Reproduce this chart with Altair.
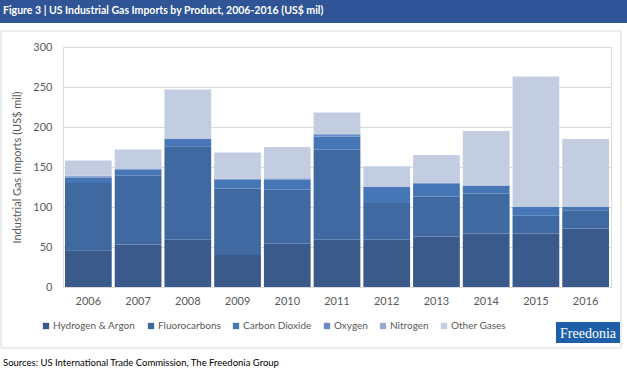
import altair as alt
import pandas as pd

years = ["2006", "2007", "2008", "2009", "2010", "2011", "2012", "2013", "2014", "2015", "2016"]
hydrogen_argon = [46, 53, 59, 40, 54, 59, 59, 63, 67, 67, 73]
fluorocarbons = [84, 86, 117, 83, 68, 113, 46, 50, 50, 22, 23]
carbon_dioxide = [7, 8, 9, 11, 12, 16, 20, 16, 10, 11, 4]
oxygen = [1.5, 1, 0, 1, 1, 2, 0, 1, 0, 0, 0]
nitrogen = [0.5, 0, 0, 0.5, 1, 2, 0, 0, 0, 0, 0]
other_gases = [19, 24, 62, 32.5, 39, 26, 26, 35, 68, 163, 85]

series_names = ["Hydrogen & Argon", "Fluorocarbons", "Carbon Dioxide", "Oxygen", "Nitrogen", "Other Gases"]
series_values = [hydrogen_argon, fluorocarbons, carbon_dioxide, oxygen, nitrogen, other_gases]
series_colors = ["#3a5a8b", "#3f69a0", "#4676b5", "#6a8cc6", "#97aacf", "#c3cde2"]

rows = []
for i, (name, vals) in enumerate(zip(series_names, series_values)):
    for y, v in zip(years, vals):
        rows.append({"year": y, "product": name, "value": v, "order": i})
df = pd.DataFrame(rows)

FONT = "Lato"
GRAY = "#595959"

# plot origin at (63, 47) in page pixels
W, H = 548, 240

bars = alt.Chart(df).mark_bar().encode(
    x=alt.X("year:N", sort=years,
            scale=alt.Scale(paddingInner=0.06, paddingOuter=0.04),
            axis=alt.Axis(title=None, labelAngle=0, ticks=False, domain=False,
                          labelPadding=8, labelFontSize=11, labelColor=GRAY, labelFont=FONT, grid=False)),
    y=alt.Y("value:Q", stack="zero",
            scale=alt.Scale(domain=[0, 300], nice=False),
            axis=alt.Axis(title="Industrial Gas Imports (US$ mil)", values=[0, 50, 100, 150, 200, 250, 300],
                          ticks=False, domain=False, gridColor="#d9d9d9", gridWidth=1,
                          labelPadding=11, labelFontSize=11, labelColor=GRAY, labelFont=FONT,
                          titleFontSize=11, titleFontWeight="normal", titleColor=GRAY, titleFont=FONT,
                          titlePadding=10)),
    color=alt.Color("product:N", sort=series_names,
                    scale=alt.Scale(domain=series_names, range=series_colors),
                    legend=alt.Legend(title=None, orient="none", legendX=-22, legendY=274,
                                      direction="horizontal", symbolType="square", symbolSize=40,
                                      symbolStrokeWidth=0, labelFontSize=10, labelColor=GRAY,
                                      labelFont=FONT, columnPadding=10, symbolOffset=0, labelOffset=2)),
    order=alt.Order("order:Q", sort="ascending"),
)

one = alt.Data(values=[{"a": 1}])

title_bar = alt.Chart(one).mark_rect(color="#2f5597").encode(
    x=alt.value(-63), x2=alt.value(564), y=alt.value(-47), y2=alt.value(-24)
)
title_text = alt.Chart(one).mark_text(
    text="Figure 3 | US Industrial Gas Imports by Product, 2006-2016 (US$ mil)",
    color="white", fontWeight="bold", fontSize=10.5, font=FONT, align="left", baseline="middle"
).encode(x=alt.value(-60), y=alt.value(-36))

border = alt.Chart(one).mark_rect(fill=None, stroke="#d9d9d9", strokeWidth=1).encode(
    x=alt.value(-62), x2=alt.value(558), y=alt.value(-16), y2=alt.value(301)
)

logo_box = alt.Chart(one).mark_rect(color="#1f5faa").encode(
    x=alt.value(493), x2=alt.value(557), y=alt.value(275), y2=alt.value(296)
)
logo_text = alt.Chart(one).mark_text(
    text="Freedonia", color="white", fontSize=14, font="Liberation Serif", align="center", baseline="middle"
).encode(x=alt.value(525), y=alt.value(287))

sources = alt.Chart(one).mark_text(
    text="Sources: US International Trade Commission, The Freedonia Group",
    color="#000000", fontSize=9.5, font=FONT, align="left", baseline="middle"
).encode(x=alt.value(-60), y=alt.value(316))

chart = alt.layer(border, bars, title_bar, title_text, logo_box, logo_text, sources).properties(
    width=W, height=H,
    autosize=alt.AutoSizeParams(type="none"),
    padding={"left": 63, "top": 47, "right": 16, "bottom": 89},
).configure_view(stroke=None).configure(background="white")

chart.save("out.html", embed_options={"renderer": "svg", "actions": False})
